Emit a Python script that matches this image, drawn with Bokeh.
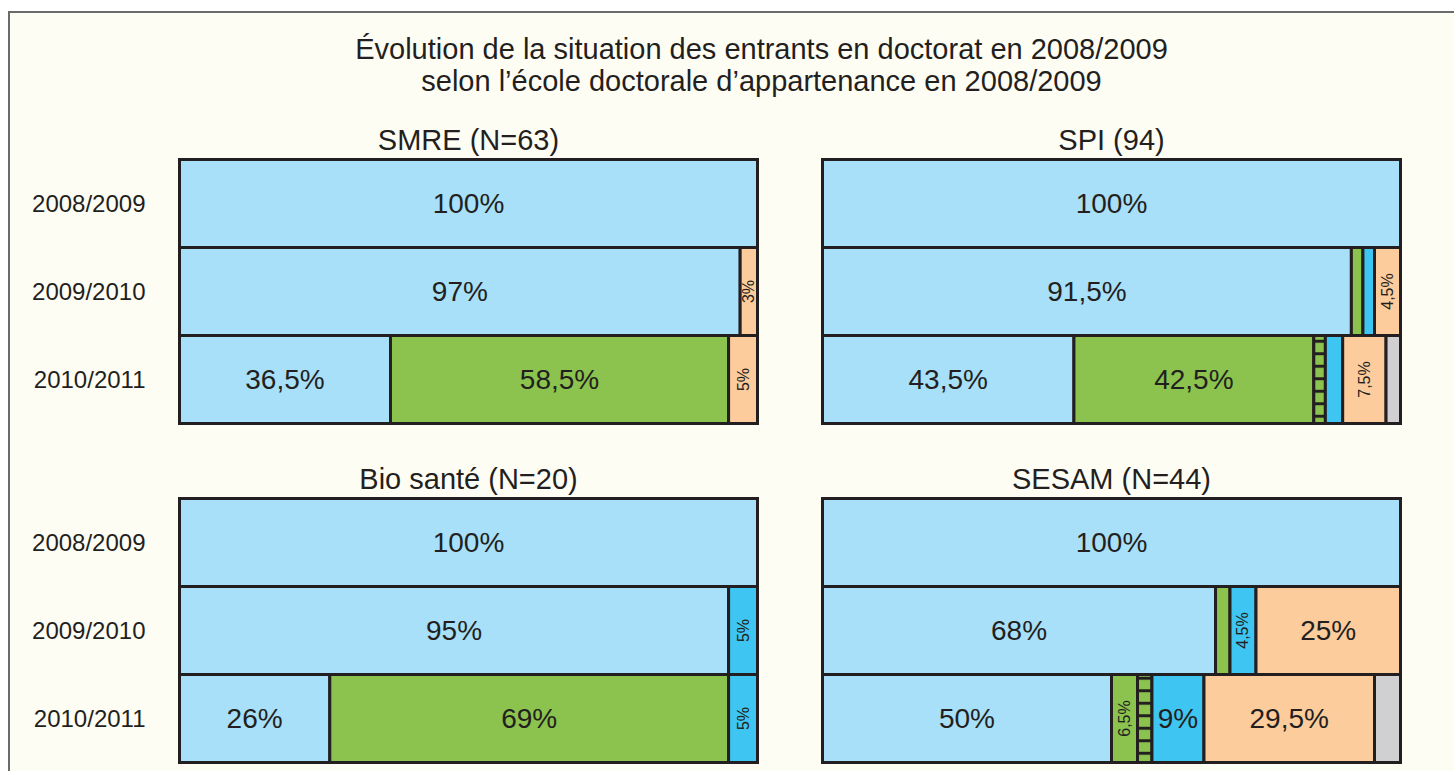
import numpy as np
from bokeh.plotting import figure
from bokeh.models import Range1d, FixedTicker, ColumnDataSource
from bokeh.layouts import column, row
from bokeh.embed import file_html
from bokeh.resources import INLINE
from bokeh.core.properties import value

# ---------------- data ----------------
TITLE_LINES = ["Évolution de la situation des entrants en doctorat en 2008/2009",
               "selon l’école doctorale d’appartenance en 2008/2009"]
YEARS = ["2008/2009", "2009/2010", "2010/2011"]
# segment order (left to right) : 6 situations
SEG_COLORS = ["#A8DFF9", "#8BC34E", "#8BC34E", "#3EC5F1", "#FDCC9D", "#D0D0D2"]
SEG_HATCH = [" ", " ", "-", " ", " ", " "]

SMRE_TITLE = "SMRE (N=63)"
SMRE_VALUES = [[100, 0, 0, 0, 0, 0],
               [97, 0, 0, 0, 3, 0],
               [36.5, 58.5, 0, 0, 5, 0]]
SMRE_LABELS = [["100%", "", "", "", "", ""],
               ["97%", "", "", "", "3%", ""],
               ["36,5%", "58,5%", "", "", "5%", ""]]

SPI_TITLE = "SPI (94)"
SPI_VALUES = [[100, 0, 0, 0, 0, 0],
              [91.5, 2, 0, 2, 4.5, 0],
              [43.5, 41.5, 2, 3, 7.5, 2.5]]
SPI_LABELS = [["100%", "", "", "", "", ""],
              ["91,5%", "", "", "", "4,5%", ""],
              ["43,5%", "42,5%", "", "", "7,5%", ""]]

BIO_TITLE = "Bio santé (N=20)"
BIO_VALUES = [[100, 0, 0, 0, 0, 0],
              [95, 0, 0, 5, 0, 0],
              [26, 69, 0, 5, 0, 0]]
BIO_LABELS = [["100%", "", "", "", "", ""],
              ["95%", "", "", "5%", "", ""],
              ["26%", "69%", "", "5%", "", ""]]

SESAM_TITLE = "SESAM (N=44)"
SESAM_VALUES = [[100, 0, 0, 0, 0, 0],
                [68, 2.5, 0, 4.5, 25, 0],
                [50, 4.5, 2.5, 9, 29.5, 4.5]]
SESAM_LABELS = [["100%", "", "", "", "", ""],
                ["68%", "", "", "4,5%", "25%", ""],
                ["50%", "6,5%", "", "9%", "29,5%", ""]]

# ---------------- style ----------------
FONT = "Liberation Sans"
INK = "#231F20"
BG = "#FEFDF4"
ROW_PX = 88.0
BAR_PX = 578.0
PAD_PX = 3.0


def make_panel(title, values, labels, show_years, width, b_left, b_right, b_top, b_bottom):
    frame_w = BAR_PX + 2 * PAD_PX
    frame_h = 3 * ROW_PX + 2 * PAD_PX
    xpad = PAD_PX / (BAR_PX / 100.0)
    ypad = PAD_PX / ROW_PX
    height = int(b_top + frame_h + b_bottom)
    p = figure(width=width, height=height, output_backend="svg", toolbar_location=None,
               x_range=Range1d(-xpad, 100 + xpad), y_range=Range1d(-0.5 - ypad, 2.5 + ypad),
               x_axis_location=None, y_axis_location="left" if show_years else None,
               min_border_left=b_left, min_border_right=b_right,
               min_border_top=b_top, min_border_bottom=b_bottom)
    p.background_fill_color = BG
    p.border_fill_color = BG
    p.outline_line_color = None
    p.grid.grid_line_color = None

    bars = dict(y=[], left=[], right=[], color=[], hatch=[])
    big = dict(x=[], y=[], text=[])
    small = dict(x=[], y=[], text=[])
    for i, vals in enumerate(values):
        yv = 2 - i
        cum = np.concatenate([[0.0], np.cumsum(vals)])
        for j, v in enumerate(vals):
            if v <= 0:
                continue
            bars["y"].append(yv)
            bars["left"].append(cum[j])
            bars["right"].append(cum[j + 1])
            bars["color"].append(SEG_COLORS[j])
            bars["hatch"].append(SEG_HATCH[j])
            lab = labels[i][j]
            if lab:
                tgt = small if v < 8 else big
                tgt["x"].append((cum[j] + cum[j + 1]) / 2.0)
                tgt["y"].append(yv)
                tgt["text"].append(lab)

    p.hbar(y="y", left="left", right="right", height=1.0, source=ColumnDataSource(bars),
           fill_color="color", line_color=INK, line_width=3, line_join="miter",
           hatch_pattern="hatch", hatch_color=INK, hatch_scale=12.5, hatch_weight=3)
    p.text(x="x", y="y", text="text", source=ColumnDataSource(big),
           text_font=value(FONT), text_font_size="28px", text_color=INK,
           text_align="center", text_baseline="middle")
    p.text(x="x", y="y", text="text", source=ColumnDataSource(small), angle=np.pi / 2,
           text_font=value(FONT), text_font_size="16px", text_color=INK,
           text_align="center", text_baseline="middle")

    p.title.text = title
    p.title.align = "center"
    p.title.text_font = FONT
    p.title.text_font_size = "29px"
    p.title.text_font_style = "normal"
    p.title.text_color = INK
    p.title.standoff = 2

    if show_years:
        ax = p.yaxis[0]
        ax.ticker = FixedTicker(ticks=[0, 1, 2])
        ax.major_label_overrides = {2: YEARS[0], 1: YEARS[1], 0: YEARS[2]}
        ax.axis_line_color = None
        ax.major_tick_line_color = None
        ax.minor_tick_line_color = None
        ax.major_tick_out = 0
        ax.major_tick_in = 0
        ax.major_label_standoff = 31
        ax.major_label_text_font = FONT
        ax.major_label_text_font_size = "24px"
        ax.major_label_text_color = INK
    return p


LEFT_W, RIGHT_W = 782, 662
p1 = make_panel(SMRE_TITLE, SMRE_VALUES, SMRE_LABELS, True, LEFT_W, 166, 32, 47, 20)
p2 = make_panel(SPI_TITLE, SPI_VALUES, SPI_LABELS, False, RIGHT_W, 27, 51, 47, 20)
p3 = make_panel(BIO_TITLE, BIO_VALUES, BIO_LABELS, True, LEFT_W, 166, 32, 49, 6)
p4 = make_panel(SESAM_TITLE, SESAM_VALUES, SESAM_LABELS, False, RIGHT_W, 27, 51, 49, 6)

HEAD_H = 96
head = figure(width=LEFT_W + RIGHT_W, height=HEAD_H, output_backend="svg", toolbar_location=None,
              x_range=Range1d(0, LEFT_W + RIGHT_W), y_range=Range1d(HEAD_H, 0),
              x_axis_location=None, y_axis_location=None,
              min_border_left=0, min_border_right=0, min_border_top=0, min_border_bottom=0)
head.background_fill_color = BG
head.border_fill_color = BG
head.outline_line_color = None
head.grid.grid_line_color = None
head.text(x=[751, 751], y=[35, 67], text=TITLE_LINES, text_font=value(FONT),
          text_font_size="29px", text_color=INK, text_align="center", text_baseline="middle")

layout = column(head, row(p1, p2), row(p3, p4),
                styles={"border-left": "2px solid #6B6B6B", "border-top": "2px solid #6B6B6B",
                        "background-color": BG, "margin-left": "8px", "margin-top": "11px"})

with open("out.html", "w") as f:
    f.write(file_html(layout, INLINE))
